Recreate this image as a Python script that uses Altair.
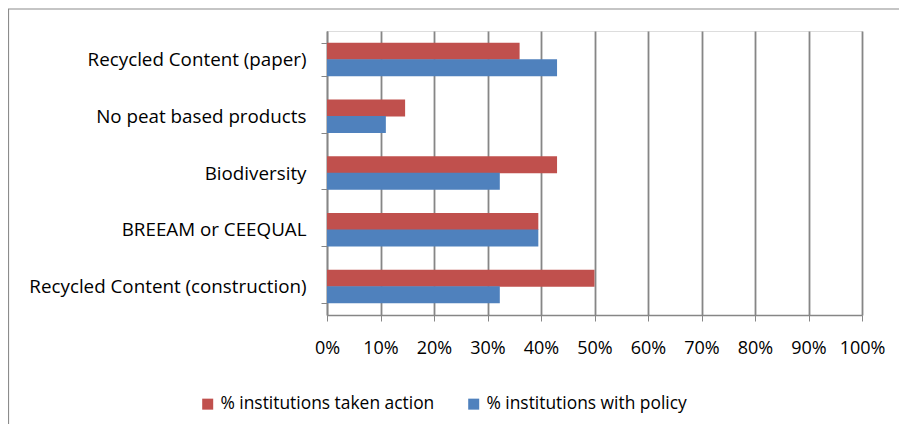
import altair as alt
import pandas as pd

categories = [
    "Recycled Content (paper)",
    "No peat based products",
    "Biodiversity",
    "BREEAM or CEEQUAL",
    "Recycled Content (construction)",
]
series_names = ["% institutions taken action", "% institutions with policy"]
taken_action = [0.36, 0.146, 0.43, 0.395, 0.50]
with_policy = [0.43, 0.11, 0.323, 0.395, 0.323]
colors = ["#C0504D", "#4F81BD"]
x_ticks = [i / 10 for i in range(11)]

rows = []
for c, a, p in zip(categories, taken_action, with_policy):
    rows.append({"category": c, "series": series_names[0], "value": a})
    rows.append({"category": c, "series": series_names[1], "value": p})
df = pd.DataFrame(rows)

FONT = "Open Sans"

bars = alt.Chart(df).mark_bar(size=17).encode(
    y=alt.Y(
        "category:N",
        sort=categories,
        title=None,
        scale=alt.Scale(paddingInner=0.42, paddingOuter=0.21),
        axis=alt.Axis(
            tickBand="extent",
            tickSize=6,
            tickColor="#868686",
            domainColor="#868686",
            domainWidth=1.5,
            labelFont=FONT,
            labelFontSize=18.8,
            labelColor="#000000",
            labelPadding=15,
            labelLimit=500,
            grid=False,
        ),
    ),
    yOffset=alt.YOffset("series:N", sort=series_names),
    x=alt.X(
        "value:Q",
        title=None,
        scale=alt.Scale(domain=[0, 1], nice=False),
        axis=alt.Axis(
            values=x_ticks,
            format=".0%",
            grid=True,
            gridColor="#868686",
            gridWidth=1.8,
            tickColor="#868686",
            tickSize=6,
            domainColor="#868686",
            domainWidth=1.5,
            labelFont=FONT,
            labelFontSize=18,
            labelColor="#000000",
            labelPadding=18,
            labelFlush=False,
            labelOverlap=False,
        ),
    ),
    color=alt.Color(
        "series:N",
        scale=alt.Scale(domain=series_names, range=colors),
        legend=alt.Legend(
            title=None,
            orient="none",
            legendX=-128,
            legendY=364,
            direction="horizontal",
            symbolType="square",
            symbolSize=121,
            symbolStrokeWidth=0,
            labelFont=FONT,
            labelFontSize=17.4,
            labelColor="#000000",
            labelLimit=500,
            columnPadding=30,
        ),
    ),
)

border = alt.Chart(pd.DataFrame({"k": [0]})).mark_rect(
    fill=None, stroke="#8c8c8c", strokeWidth=1.2, clip=False
).encode(
    x=alt.value(-318.5), x2=alt.value(620), y=alt.value(-22), y2=alt.value(440)
)

chart = alt.layer(border, bars).properties(
    width=535,
    height=284,
    autosize=alt.AutoSizeParams(type="none"),
    padding={"left": 319, "top": 23, "right": 37, "bottom": 109},
).configure_view(stroke=None).configure(background="white")

chart.save("out.html", embed_options={"renderer": "svg", "actions": False})
